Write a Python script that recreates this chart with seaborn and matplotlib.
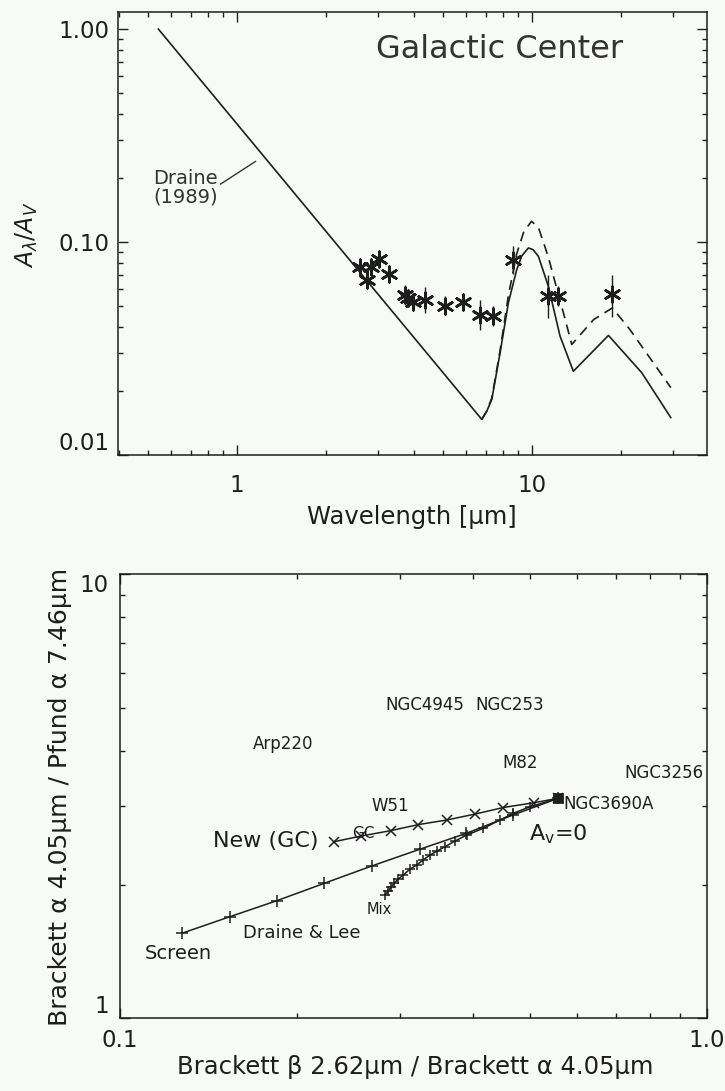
import numpy as np
import pandas as pd
import matplotlib
matplotlib.use("Agg")
import matplotlib.pyplot as plt
import matplotlib.ticker as mticker
import seaborn as sns

# ---- top panel: extinction law toward the Galactic Center ----
draine_wav = [0.542, 6.77, 7.04, 7.32, 7.81, 8.33, 8.89, 9.25, 9.74, 10.1, 10.53,
              11.38, 12.47, 13.83, 18.19, 23.6, 29.6]
draine_ext = [1.0, 0.01468, 0.01606, 0.01823, 0.0302, 0.0518, 0.0741, 0.086, 0.0937,
              0.092, 0.0856, 0.0619, 0.0361, 0.0247, 0.0364, 0.0243, 0.01496]

mod_wav = [6.77, 7.04, 7.32, 7.81, 8.33, 8.89, 9.4, 9.98, 10.53, 11.38, 11.84,
           12.8, 13.66, 16.2, 18.76, 21.5, 29.6]
mod_ext = [0.01468, 0.0161, 0.0185, 0.031, 0.056, 0.088, 0.112, 0.125, 0.117,
           0.085, 0.069, 0.0465, 0.033, 0.0432, 0.049, 0.0388, 0.0207]

gc_wav = [2.62, 2.85, 2.76, 3.04, 3.28, 3.72, 3.82, 3.97, 4.35, 5.08, 5.86,
          6.68, 7.41, 8.66, 11.38, 12.3, 18.76]
gc_ext = [0.0763, 0.0763, 0.0661, 0.0835, 0.0710, 0.0566, 0.0546, 0.0521, 0.0532,
          0.0503, 0.0521, 0.0456, 0.0448, 0.0826, 0.0556, 0.0558, 0.0572]
gc_lo = [0.0723, 0.0723, 0.0627, 0.0791, 0.0673, 0.0508, 0.0501, 0.0478, 0.0462,
         0.0452, 0.0478, 0.0388, 0.0402, 0.0710, 0.0438, 0.0501, 0.0442]
gc_hi = [0.0805, 0.0805, 0.0697, 0.0881, 0.0749, 0.0631, 0.0595, 0.0568, 0.0612,
         0.0560, 0.0568, 0.0536, 0.0499, 0.0961, 0.0703, 0.0622, 0.0703]

# ---- bottom panel: hydrogen line ratio diagram ----
screen_x = [0.1274, 0.1539, 0.1849, 0.2228, 0.2683, 0.3238, 0.389, 0.467, 0.558]
screen_y = [1.554, 1.694, 1.840, 2.014, 2.203, 2.402, 2.61, 2.87, 3.13]

newgc_x = [0.2316, 0.2575, 0.289, 0.3223, 0.3603, 0.403, 0.4498, 0.507, 0.558]
newgc_y = [2.499, 2.574, 2.646, 2.731, 2.797, 2.885, 2.984, 3.059, 3.13]

mix_x = [0.2828, 0.2862, 0.2896, 0.2931, 0.2977, 0.3038, 0.3119, 0.3203, 0.3283,
         0.3374, 0.3467, 0.3578, 0.3721, 0.3897, 0.4159, 0.4441, 0.4678, 0.4994, 0.558]
mix_y = [1.895, 1.935, 1.976, 2.014, 2.059, 2.102, 2.169, 2.214, 2.273,
         2.332, 2.381, 2.435, 2.508, 2.587, 2.679, 2.797, 2.896, 2.996, 3.13]

av0_x = [0.558]
av0_y = [3.13]

# label, x, y, fontsize
obj_labels = [
    ("NGC4945", 0.3301, 5.077, 12),
    ("NGC253", 0.4603, 5.077, 12),
    ("Arp220", 0.1897, 4.148, 12),
    ("M82", 0.4808, 3.752, 12),
    ("NGC3256", 0.8434, 3.575, 12),
    ("W51", 0.2891, 3.007, 12),
    ("NGC3690A", 0.6786, 3.039, 12),
    ("New (GC)", 0.1774, 2.512, 16),
    ("GC", 0.2594, 2.610, 11),
    ("A$_\\mathrm{v}$=0", 0.558, 2.601, 16),
    ("Mix", 0.2762, 1.760, 10.5),
    ("Draine & Lee", 0.2040, 1.554, 13),
    ("Screen", 0.1255, 1.401, 14),
]

sns.set_theme(style="ticks")
plt.rcParams["font.family"] = ["DejaVu Sans"]
plt.rcParams["axes.linewidth"] = 1.1
ink = "#1e1e1e"
bg = "#f8faf8"

fig = plt.figure(figsize=(7.25, 10.91), dpi=100, facecolor=bg)
ax1 = fig.add_axes([0.1628, 0.5830, 0.8117, 0.4063], facecolor=bg)
ax2 = fig.add_axes([0.1655, 0.0666, 0.8097, 0.4070], facecolor=bg)

# top panel
sns.lineplot(x=draine_wav, y=draine_ext, ax=ax1, sort=False, estimator=None,
             color=ink, lw=1.2)
sns.lineplot(x=mod_wav, y=mod_ext, ax=ax1, sort=False, estimator=None,
             color=ink, lw=1.2, linestyle=(0, (6, 4)))
err = [np.array(gc_ext) - np.array(gc_lo), np.array(gc_hi) - np.array(gc_ext)]
ax1.errorbar(gc_wav, gc_ext, yerr=err, fmt="none", ecolor=ink, elinewidth=1.0)
sns.scatterplot(x=gc_wav, y=gc_ext, ax=ax1, marker=(6, 2, 0), s=125,
                color=ink, linewidth=1.9)

ax1.set_xscale("log")
ax1.set_yscale("log")
ax1.set_xlim(0.396, 39.1)
ax1.set_ylim(0.01, 1.205)
ax1.set_xticks([1, 10], labels=["1", "10"])
ax1.set_yticks([0.01, 0.1, 1.0], labels=["0.01", "0.10", "1.00"])
ax1.text(0.649, 0.914, "Galactic Center", transform=ax1.transAxes,
         ha="center", va="center", fontsize=23, color="#333333")
ax1.text(0.67, 0.179, "Draine\n(1989)", ha="center", va="center",
         fontsize=14, color="#333333", linespacing=0.95)
ax1.annotate("", xy=(1.181, 0.243), xytext=(0.864, 0.1836),
             arrowprops=dict(arrowstyle="-", color="#333333", lw=1.0))

# bottom panel
sns.lineplot(x=screen_x, y=screen_y, ax=ax2, sort=False, estimator=None,
             color=ink, lw=1.1, marker="+", markersize=8,
             markeredgecolor=ink, markeredgewidth=1.1)
sns.lineplot(x=newgc_x, y=newgc_y, ax=ax2, sort=False, estimator=None,
             color=ink, lw=1.1, marker="x", markersize=7,
             markeredgecolor=ink, markeredgewidth=1.1)
sns.lineplot(x=mix_x, y=mix_y, ax=ax2, sort=False, estimator=None,
             color=ink, lw=1.1, marker="+", markersize=7,
             markeredgecolor=ink, markeredgewidth=1.1)
sns.scatterplot(x=av0_x, y=av0_y, ax=ax2, marker="s", s=45, color=ink,
                edgecolor=ink)

for name, lx, ly, fs in obj_labels:
    ax2.text(lx, ly, name, ha="center", va="center", fontsize=fs, color=ink)

ax2.set_xscale("log")
ax2.set_yscale("log")
ax2.set_xlim(0.1, 1.0)
ax2.set_ylim(1, 10)
ax2.set_xticks([0.1, 1.0], labels=["0.1", "1.0"])
ax2.set_yticks([1, 10], labels=["1", "10"])

for ax in (ax1, ax2):
    ax.xaxis.set_minor_locator(mticker.LogLocator(base=10, subs=np.arange(2, 10), numticks=20))
    ax.yaxis.set_minor_locator(mticker.LogLocator(base=10, subs=np.arange(2, 10), numticks=20))
    ax.xaxis.set_minor_formatter(mticker.NullFormatter())
    ax.yaxis.set_minor_formatter(mticker.NullFormatter())
    ax.tick_params(which="both", direction="in", top=True, right=True,
                   colors=ink, labelsize=16.5, width=1.0)
    ax.tick_params(which="major", length=7)
    ax.tick_params(which="minor", length=3.5)
    for sp in ax.spines.values():
        sp.set_color(ink)
    ax.set_xlabel("")
    ax.set_ylabel("")

ax1.tick_params(axis="x", which="major", pad=14)
ax1.tick_params(axis="y", which="major", pad=6)
ax2.tick_params(axis="x", which="major", pad=8)
ax2.tick_params(axis="y", which="major", pad=8)

# the IDL-style axes nudge the end labels inward along the axis
ax1.get_yticklabels()[0].set_va("bottom")
ax2.get_yticklabels()[0].set_va("bottom")
ax2.get_yticklabels()[1].set_va("top")

fig.text(412 / 725, 1 - 516.7 / 1091, "Wavelength [μm]", ha="center", va="center",
         fontsize=17.5, color=ink)
fig.text(27 / 725, 1 - 235 / 1091, r"$A_\lambda/A_V$", ha="center", va="center",
         rotation=90, fontsize=17, color=ink)
fig.text(415 / 725, 1 - 1066.7 / 1091, "Brackett β 2.62μm / Brackett α 4.05μm",
         ha="center", va="center", fontsize=17.5, color=ink)
fig.text(60 / 725, 1 - 797 / 1091, "Brackett α 4.05μm / Pfund α 7.46μm",
         ha="center", va="center", rotation=90, fontsize=18, color=ink)

fig.savefig("out.png", dpi=100, facecolor=bg)
